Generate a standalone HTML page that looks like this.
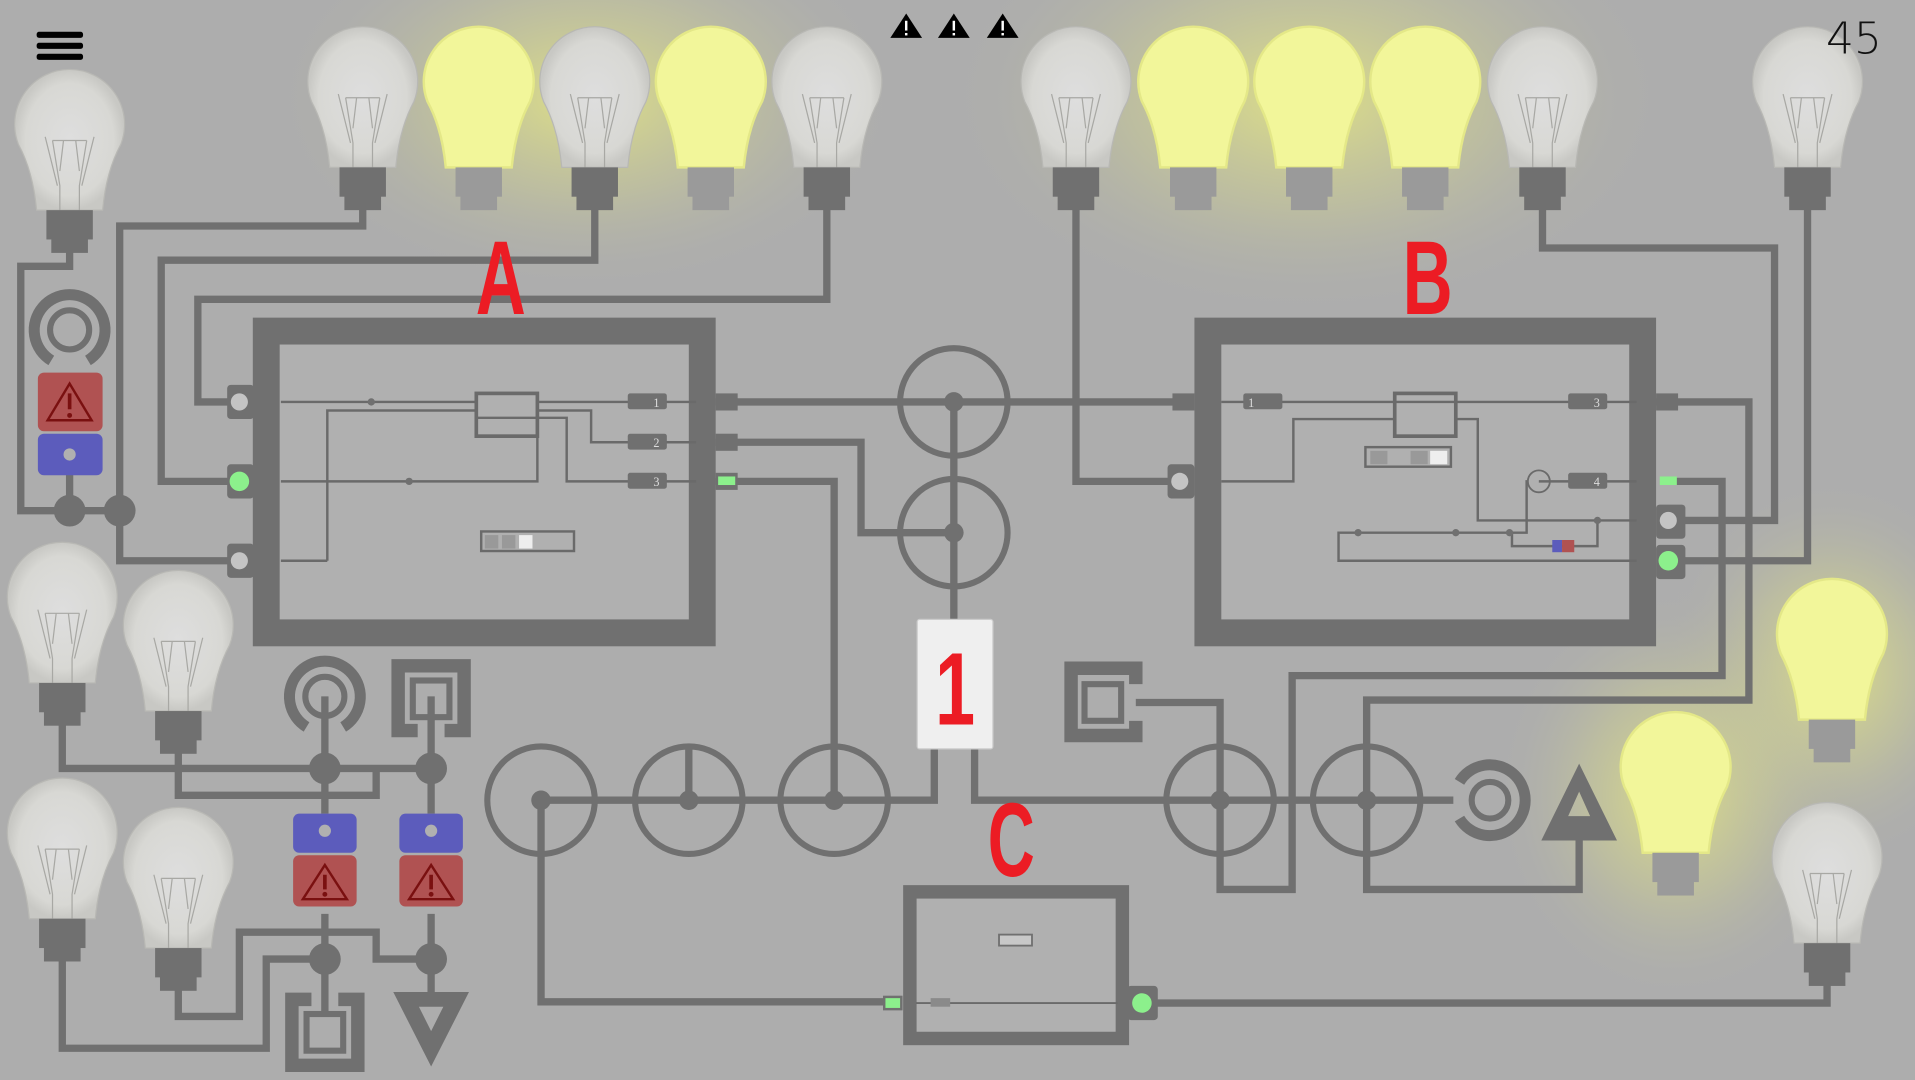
<!DOCTYPE html>
<html><head><meta charset="utf-8"><style>
html,body{margin:0;padding:0;background:#adadad;overflow:hidden}
svg{display:block}
.t{font-family:"Liberation Sans Narrow","Liberation Sans",sans-serif;font-weight:bold;fill:#ec1c24}
</style></head><body>
<svg width="1915" height="1080" viewBox="0 0 1568 884" preserveAspectRatio="none" xmlns="http://www.w3.org/2000/svg">
<defs>
<radialGradient id="glow"><stop offset="0" stop-color="#eef07a" stop-opacity="0.75"/><stop offset="0.5" stop-color="#d8da8a" stop-opacity="0.35"/><stop offset="1" stop-color="#adadad" stop-opacity="0"/></radialGradient>
<radialGradient id="glass"><stop offset="0" stop-color="#dedede"/><stop offset="0.8" stop-color="#d8d8d4"/><stop offset="1" stop-color="#c8c8c4"/></radialGradient>
<g id="off">
<path d="M-42,58 A45,45 0 1 1 42,58 Q30,80 27,112 L-27,112 Q-30,80 -42,58 Z" fill="url(#glass)" stroke="#b8b8b4" stroke-width="1"/>
<path d="M-14,55 L-8,92 L-8,112 M14,55 L8,92 L8,112 M-14,55 L14,55 M-5,55 L-8,80 M5,55 L8,80 M-20,52 L-10,92 M20,52 L10,92" fill="none" stroke="#a8a8a4" stroke-width="1"/>
<rect x="-19" y="112" width="38" height="24" fill="#707070"/><rect x="-15" y="134" width="30" height="13" fill="#707070"/>
</g>
<g id="on">
<path d="M-42,58 A45,45 0 1 1 42,58 Q30,80 27,112 L-27,112 Q-30,80 -42,58 Z" fill="#f2f69a" stroke="#e4e888" stroke-width="2"/>
<rect x="-19" y="112" width="38" height="24" fill="#9a9a9a"/><rect x="-15" y="134" width="30" height="13" fill="#9a9a9a"/>
</g>
<g id="card1">
<rect x="-26" y="0" width="52" height="42" rx="5" fill="#b05252"/>
<path d="M0,8 L18,36 L-18,36 Z" fill="none" stroke="#7a1010" stroke-width="2"/>
<rect x="-1.5" y="16" width="3" height="12" fill="#7a1010"/><circle cx="0" cy="32" r="2" fill="#7a1010"/>
</g>
</defs>
<rect width="1568" height="884" fill="#adadad"/>
<ellipse cx="480" cy="80" rx="260" ry="160" fill="url(#glow)"/>
<ellipse cx="1070" cy="80" rx="300" ry="180" fill="url(#glow)"/>
<ellipse cx="1500" cy="550" rx="140" ry="160" fill="url(#glow)"/>
<ellipse cx="1372" cy="650" rx="150" ry="170" fill="url(#glow)"/>

<g fill="none" stroke="#707070" stroke-width="6" stroke-linejoin="miter">
<polyline points="297,160 297,185 98,185 98,459 196,459"/>
<polyline points="487,160 487,213 132,213 132,394 196,394"/>
<polyline points="677,160 677,245 162,245 162,329 196,329"/>
<polyline points="57,195 57,218 17,218 17,418 98,418"/>
<line x1="57" y1="380" x2="57" y2="418"/>
<polyline points="586,329 975,329"/>
<polyline points="586,362 705,362 705,436 781,436"/>
<polyline points="586,394 683,394 683,655"/>
<line x1="781" y1="329" x2="781" y2="507"/>
<polyline points="765,613 765,655 443,655 443,820 730,820"/>
<line x1="564" y1="610" x2="564" y2="655"/>
<polyline points="798,613 798,655 1190,655"/>
<polyline points="999,655 999,575 930,575"/>
<polyline points="999,655 999,728 1058,728 1058,553 1410,553 1410,394 1370,394"/>
<polyline points="1119,655 1119,573 1432,573 1432,329 1356,329"/>
<polyline points="1119,655 1119,728 1293,728 1293,670"/>
<polyline points="881,160 881,394 966,394"/>
<polyline points="1263,160 1263,203 1453,203 1453,426 1366,426"/>
<polyline points="1480,160 1480,459 1366,459"/>
<polyline points="940,821 1496,821 1496,800"/>
<polyline points="51,580 51,629 353,629"/>
<polyline points="146,605 146,651 308,651 308,629"/>
<line x1="266" y1="570" x2="266" y2="666"/><line x1="353" y1="570" x2="353" y2="666"/>
<line x1="266" y1="748" x2="266" y2="830"/><line x1="353" y1="748" x2="353" y2="820"/>
<polyline points="51,775 51,858 218,858 218,785 266,785"/>
<polyline points="146,798 146,832 196,832 196,763 308,763 308,785 353,785"/>
</g>
<g fill="none" stroke="#707070" stroke-width="5">
<circle cx="781" cy="329" r="44"/><circle cx="781" cy="436" r="44"/>
<circle cx="443" cy="655" r="44"/><circle cx="564" cy="655" r="44"/><circle cx="683" cy="655" r="44"/>
<circle cx="999" cy="655" r="44"/><circle cx="1119" cy="655" r="44"/>
</g>
<g fill="#707070">
<circle cx="781" cy="329" r="8"/><circle cx="781" cy="436" r="8"/><circle cx="443" cy="655" r="8"/><circle cx="564" cy="655" r="8"/><circle cx="683" cy="655" r="8"/><circle cx="999" cy="655" r="8"/><circle cx="1119" cy="655" r="8"/>
<circle cx="57" cy="418" r="13"/><circle cx="98" cy="418" r="13"/>
<circle cx="266" cy="629" r="13"/><circle cx="353" cy="629" r="13"/><circle cx="266" cy="785" r="13"/><circle cx="353" cy="785" r="13"/>
</g>
<g fill="none" stroke="#707070">
<path d="M42,295 A29,29 0 1 1 72,295" stroke-width="9"/><circle cx="57" cy="270" r="16" stroke-width="5"/>
<path d="M251,595 A29,29 0 1 1 281,595" stroke-width="9"/><circle cx="266" cy="570" r="16" stroke-width="5"/>
<path d="M1195,640 A29,29 0 1 1 1195,670" stroke-width="9"/><circle cx="1220" cy="655" r="15" stroke-width="5"/>
<path d="M342,598 L326,598 326,545 380,545 380,598 364,598" stroke-width="11"/><rect x="338" y="557" width="30" height="30" stroke-width="5"/>
<path d="M255,818 L239,818 239,872 293,872 293,818 277,818" stroke-width="11"/><rect x="251" y="830" width="30" height="30" stroke-width="5"/>
<path d="M930,560 L930,547 877,547 877,602 930,602 930,590" stroke-width="11"/><rect x="888" y="560" width="30" height="30" stroke-width="5"/>
</g>
<path d="M322,812 L384,812 353,873 Z M343,824 L363,824 353,844 Z" fill="#707070" fill-rule="evenodd"/>
<path d="M1293,625 L1324,688 L1262,688 Z M1293,648 L1284,668 L1302,668 Z" fill="#707070" fill-rule="evenodd"/>
<rect x="31" y="305" width="53" height="48" rx="5" fill="#b05252"/>
<path d="M57,314 L75,344 L39,344 Z" fill="none" stroke="#7a1010" stroke-width="2"/><rect x="55.5" y="322" width="3" height="13" fill="#7a1010"/><circle cx="57" cy="340" r="2" fill="#7a1010"/>
<rect x="31" y="355" width="53" height="34" rx="5" fill="#5c5cbc"/><circle cx="57" cy="372" r="5" fill="#b0b0b0"/>
<rect x="240" y="666" width="52" height="32" rx="5" fill="#5c5cbc"/><circle cx="266" cy="680" r="5" fill="#b0b0b0"/>
<use href="#card1" x="266" y="700"/>
<rect x="327" y="666" width="52" height="32" rx="5" fill="#5c5cbc"/><circle cx="353" cy="680" r="5" fill="#b0b0b0"/>
<use href="#card1" x="353" y="700"/>

<rect x="218" y="271" width="357" height="247" fill="#b0b0b0" stroke="#707070" stroke-width="22"/>
<rect x="989" y="271" width="356" height="247" fill="#b0b0b0" stroke="#707070" stroke-width="22"/>
<rect x="745" y="730" width="174" height="120" fill="#b0b0b0" stroke="#707070" stroke-width="11"/>
<g fill="none" stroke="#6a6a6a" stroke-width="2">
<line x1="230" y1="329" x2="390" y2="329"/>
<polyline points="268,459 268,336 390,336"/>
<polyline points="230,394 440,394 440,342 390,342"/>
<line x1="440" y1="329" x2="570" y2="329"/>
<polyline points="440,336 484,336 484,362 570,362"/>
<polyline points="440,342 464,342 464,394 570,394"/>
<line x1="230" y1="459" x2="268" y2="459"/>
<rect x="390" y="322" width="50" height="35" stroke-width="3"/>
<rect x="394" y="435" width="76" height="16" stroke-width="2"/>
</g>
<g fill="#707070"><circle cx="304" cy="329" r="3"/><circle cx="335" cy="394" r="3"/>
<rect x="514" y="322" width="32" height="13" rx="2"/><rect x="514" y="355" width="32" height="13" rx="2"/><rect x="514" y="387" width="32" height="13" rx="2"/>
<rect x="186" y="315" width="22" height="28" rx="3"/><rect x="186" y="380" width="22" height="28" rx="3"/><rect x="186" y="445" width="22" height="28" rx="3"/>
<rect x="586" y="322" width="18" height="14"/><rect x="586" y="355" width="18" height="14"/><rect x="586" y="387" width="18" height="14"/>
</g>
<g font-family="Liberation Serif,serif" font-size="10" fill="#ddd"><text x="535" y="333">1</text><text x="535" y="366">2</text><text x="535" y="398">3</text></g>
<circle cx="196" cy="329" r="7" fill="#c4c4c4"/><circle cx="196" cy="394" r="8" fill="#8cf08c"/><circle cx="196" cy="459" r="7" fill="#c4c4c4"/>
<rect x="588" y="390" width="14" height="7" fill="#8cf08c"/>
<rect x="397" y="438" width="11" height="11" fill="#999"/><rect x="411" y="438" width="11" height="11" fill="#999"/><rect x="425" y="438" width="11" height="11" fill="#eee"/>
<g fill="none" stroke="#6a6a6a" stroke-width="2">
<line x1="1000" y1="329" x2="1340" y2="329"/>
<polyline points="1000,394 1059,394 1059,343 1141,343"/>
<polyline points="1192,343 1210,343 1210,426 1340,426"/>
<polyline points="1340,459 1096,459 1096,436 1250,436 1250,393"/>
<polyline points="1238,436 1238,447 1308,447 1308,426"/>
<line x1="1260" y1="394" x2="1340" y2="394"/>
<circle cx="1260" cy="394" r="9" stroke-width="1.5"/>
<rect x="1118" y="366" width="70" height="16" stroke-width="2"/>
</g>
<rect x="1142" y="322" width="50" height="35" fill="none" stroke="#6a6a6a" stroke-width="3"/>
<g fill="#707070"><circle cx="1112" cy="436" r="3"/><circle cx="1192" cy="436" r="3"/><circle cx="1236" cy="436" r="3"/><circle cx="1308" cy="426" r="3"/>
<rect x="1018" y="322" width="32" height="13" rx="2"/><rect x="1284" y="322" width="32" height="13" rx="2"/><rect x="1284" y="387" width="32" height="13" rx="2"/>
<rect x="956" y="380" width="22" height="28" rx="3"/><rect x="1356" y="413" width="24" height="28" rx="3"/><rect x="1356" y="446" width="24" height="28" rx="3"/>
<rect x="960" y="322" width="18" height="14"/><rect x="1356" y="322" width="18" height="14"/>
</g>
<g font-family="Liberation Serif,serif" font-size="10" fill="#ddd"><text x="1022" y="333">1</text><text x="1305" y="333">3</text><text x="1305" y="398">4</text></g>
<circle cx="966" cy="394" r="7" fill="#c4c4c4"/><circle cx="1366" cy="426" r="7" fill="#c4c4c4"/><circle cx="1366" cy="459" r="8" fill="#8cf08c"/>
<rect x="1359" y="390" width="14" height="7" fill="#8cf08c"/>
<rect x="1122" y="369" width="14" height="11" fill="#999"/><rect x="1155" y="369" width="14" height="11" fill="#999"/><rect x="1171" y="369" width="14" height="11" fill="#eee"/>
<rect x="1271" y="442" width="8" height="10" fill="#5c5cbc"/><rect x="1279" y="442" width="10" height="10" fill="#b05252"/>
<line x1="750" y1="821" x2="915" y2="821" stroke="#6a6a6a" stroke-width="1.5"/>
<rect x="818" y="765" width="27" height="9" fill="#c8c8c8" stroke="#707070" stroke-width="1.5"/>
<rect x="762" y="817" width="16" height="7" fill="#8a8a8a"/>
<rect x="723" y="815" width="16" height="12" fill="#707070"/><rect x="725" y="817" width="12" height="8" fill="#8cf08c"/>
<rect x="923" y="807" width="25" height="28" rx="3" fill="#707070"/><circle cx="935" cy="821" r="8" fill="#8cf08c"/>
<rect x="751" y="507" width="62" height="106" rx="2" fill="#efefef" stroke="#ccc"/>
<text class="t" x="782" y="593" font-size="84" text-anchor="middle" transform="translate(782 0) scale(0.7 1) translate(-782 0)">1</text>
<text class="t" x="410" y="257" font-size="86" text-anchor="middle" transform="translate(410 0) scale(0.66 1) translate(-410 0)">A</text>
<text class="t" x="1169" y="257" font-size="86" text-anchor="middle" transform="translate(1169 0) scale(0.66 1) translate(-1169 0)">B</text>
<text class="t" x="828" y="717" font-size="86" text-anchor="middle" transform="translate(828 0) scale(0.62 1) translate(-828 0)">C</text>
<use href="#off" x="297" y="25"/><use href="#on" x="392" y="25"/><use href="#off" x="487" y="25"/><use href="#on" x="582" y="25"/><use href="#off" x="677" y="25"/>
<use href="#off" x="881" y="25"/><use href="#on" x="977" y="25"/><use href="#on" x="1072" y="25"/><use href="#on" x="1167" y="25"/><use href="#off" x="1263" y="25"/><use href="#off" x="1480" y="25"/>
<use href="#off" x="57" y="60"/>
<use href="#off" x="51" y="447"/><use href="#off" x="146" y="470"/><use href="#off" x="51" y="640"/><use href="#off" x="146" y="664"/>
<use href="#on" x="1500" y="477"/><use href="#on" x="1372" y="586"/><use href="#off" x="1496" y="660"/>
<g fill="#000"><rect x="30" y="26" width="38" height="5" rx="2"/><rect x="30" y="35" width="38" height="5" rx="2"/><rect x="30" y="44" width="38" height="5" rx="2"/></g>
<g fill="#000">
<path d="M742,11 L755,31 L729,31 Z"/><path d="M781,11 L794,31 L768,31 Z"/><path d="M821,11 L834,31 L808,31 Z"/>
</g>
<g fill="#fff"><rect x="741" y="17" width="2" height="8"/><rect x="741" y="27" width="2" height="2"/><rect x="780" y="17" width="2" height="8"/><rect x="780" y="27" width="2" height="2"/><rect x="820" y="17" width="2" height="8"/><rect x="820" y="27" width="2" height="2"/></g>
<text x="1518" y="44" font-family="DejaVu Sans,sans-serif" font-weight="200" font-size="36" fill="#111" text-anchor="middle">45</text>
</svg>
</body></html>
